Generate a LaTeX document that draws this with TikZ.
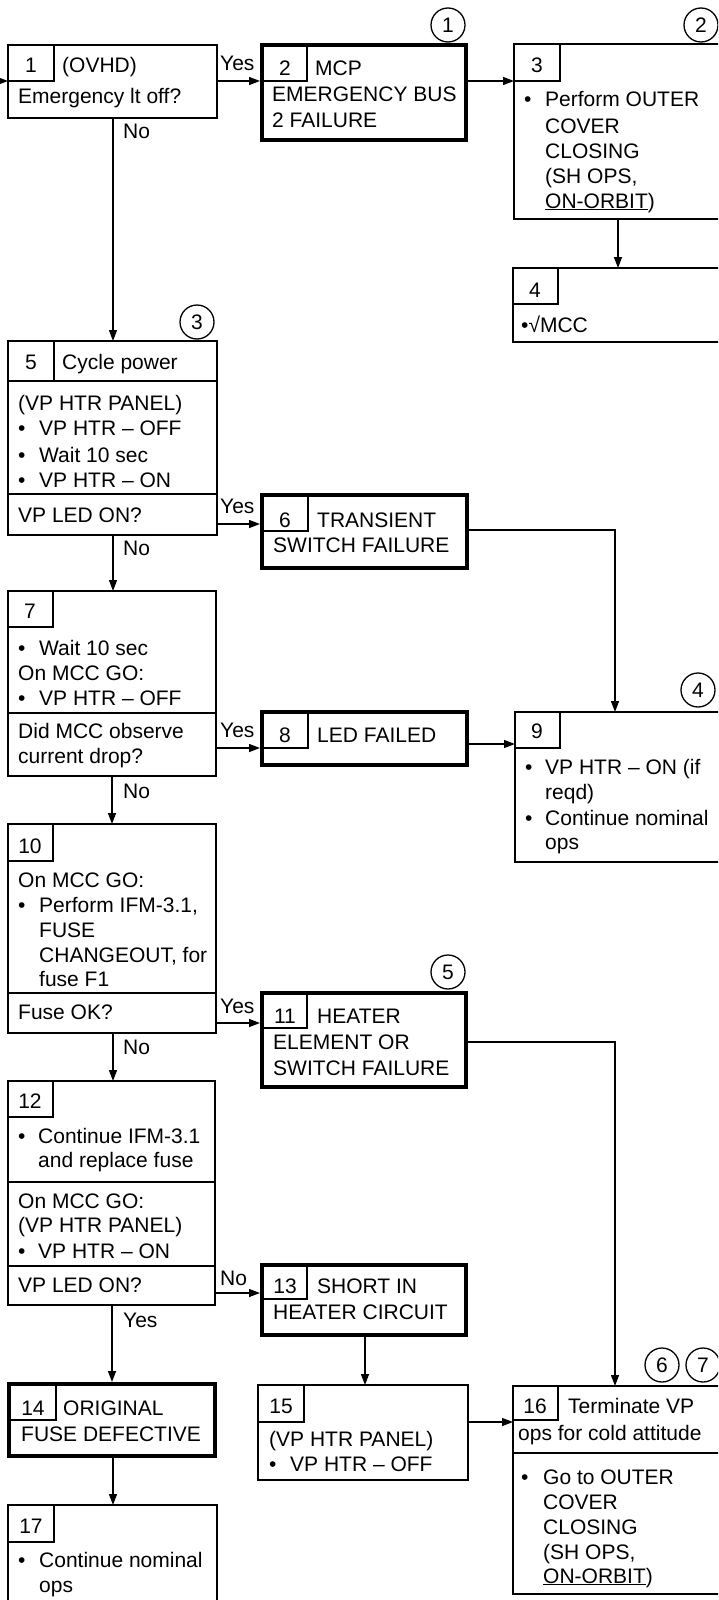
\documentclass[tikz,border=0pt]{standalone}
\usepackage{fontspec}
\setmainfont{Liberation Sans}
\usetikzlibrary{arrows.meta,fit}
\newcounter{tcnt}
\newcommand\tl[3]{\stepcounter{tcnt}\node[txt] (t\arabic{tcnt}) at (#1,#2) {#3};}
\newcommand\nm[3]{\stepcounter{tcnt}\node[txt,anchor=base] (t\arabic{tcnt}) at (#1,#2) {#3};}
\newcommand\bul[4]{\stepcounter{tcnt}\node[txt] (t\arabic{tcnt}) at (#1,#3) {•};\stepcounter{tcnt}\node[txt] (t\arabic{tcnt}) at (#2,#3) {#4};}
\newcommand\cel[3]{\draw[cell] (#1.north west) rectangle ++(#2,#3);}
\newcommand\dv[2]{\draw[cell] (#1.west |- 0,#2) -- (#1.east |- 0,#2);}
\begin{document}
\begin{tikzpicture}[x=1pt,y=-1pt,
  txt/.style={anchor=base west,inner sep=0pt,font=\fontsize{21}{25}\selectfont},
  thinbox/.style={draw,rectangle,line width=1.5pt,inner sep=0pt,outer sep=0pt},
  thickbox/.style={draw,rectangle,line width=4.5pt,inner sep=0pt,outer sep=0pt},
  cell/.style={line width=1.3pt},
  con/.style={line width=1.3pt},
  arr/.style={line width=1.3pt,-{Triangle[length=11pt,width=8pt]}},
  arrk/.style={arr,shorten >=2pt},
  circ/.style={draw,circle,line width=1.3pt,minimum size=34pt,inner sep=0pt,font=\fontsize{21}{25}\selectfont}]
\useasboundingbox (0,0) rectangle (718,1600);
\clip (0,0) rectangle (718,1600);

% circles
\node[circ] (c1) at (448,25) {1};
\node[circ] (c2) at (701,25) {2};
\node[circ] (c3) at (197,322) {3};
\node[circ] (c4) at (698,690) {4};
\node[circ] (c5) at (448,972) {5};
\node[circ] (c6) at (662,1365) {6};
\node[circ] (c7) at (703,1365) {7};

% Box 1
\node[thinbox,fit={(8,45) (217,118)}] (b1) {};
\cel{b1}{46}{36}
\nm{31}{73}{1}
\tl{62}{73}{(OVHD)}
\tl{18}{104}{Emergency lt off?}
\coordinate (in1) at (-4,81);
\draw[arr] (in1) -- (b1.west |- 0,81);

% Box 2
\node[thickbox,fit={(262,45) (466,140)}] (b2) {};
\cel{b2}{45}{36}
\nm{285}{76}{2}
\tl{315}{76}{MCP}
\tl{272}{102}{EMERGENCY BUS}
\tl{272}{128}{2 FAILURE}
\tl{220}{71}{Yes}
\draw[arrk] (b1.east |- 0,81) -- (b2.west |- 0,81);

% Box 3
\node[thinbox,fit={(514,44) (723,219)}] (b3) {};
\cel{b3}{46}{37}
\nm{537}{73}{3}
\bul{524}{545}{107}{Perform OUTER}
\tl{545}{133}{COVER}
\tl{545}{158}{CLOSING}
\tl{545}{183}{(SH OPS,}
\tl{545}{208}{\underline{ON-ORBIT})}
\draw[arr] (b2.east |- 0,81) -- (b3.west |- 0,81);

% Box 4
\node[thinbox,fit={(513,268) (723,342)}] (b4) {};
\cel{b4}{45}{36}
\nm{535}{297}{4}
\tl{521}{332}{•√MCC}
\draw[arr] (b3.south -| 618,0) -- (b4.north -| 618,0);

% Box 5
\node[thinbox,fit={(8,341) (217,535)}] (b5) {};
\cel{b5}{46}{40}
\dv{b5}{381}
\dv{b5}{494}
\nm{31}{369}{5}
\tl{62}{369}{Cycle power}
\tl{18}{410}{(VP HTR PANEL)}
\bul{18}{39}{435}{VP HTR – OFF}
\bul{18}{39}{462}{Wait 10 sec}
\bul{18}{39}{487}{VP HTR – ON}
\tl{18}{522}{VP LED ON?}
\draw[arr] (b1.south -| 113,0) -- (b5.north -| 113,0);
\tl{123}{139}{No}

% Box 6
\node[thickbox,fit={(262,495) (467,568)}] (b6) {};
\cel{b6}{46}{36}
\nm{285}{527}{6}
\tl{317}{527}{TRANSIENT}
\tl{273}{552}{SWITCH FAILURE}
\tl{220}{513}{Yes}
\draw[arrk] (b5.east |- 0,524) -- (b6.west |- 0,524);

% Box 7
\node[thinbox,fit={(8,591) (216,776)}] (b7) {};
\cel{b7}{45}{36}
\dv{b7}{713}
\nm{30}{618}{7}
\bul{18}{39}{655}{Wait 10 sec}
\tl{18}{680}{On MCC GO:}
\bul{18}{39}{705}{VP HTR – OFF}
\tl{18}{738}{Did MCC observe}
\tl{18}{763}{current drop?}
\tl{123}{555}{No}
\draw[arr] (b5.south -| 113,0) -- (b7.north -| 113,0);

% Box 8
\node[thickbox,fit={(262,712) (467,765)}] (b8) {};
\cel{b8}{46}{36}
\nm{285}{742}{8}
\tl{317}{742}{LED FAILED}
\tl{220}{737}{Yes}
\draw[arrk] (b7.east |- 0,748) -- (b8.west |- 0,748);

% Box 9
\node[thinbox,fit={(515,712) (723,862)}] (b9) {};
\cel{b9}{45}{36}
\nm{537}{738}{9}
\bul{525}{545}{774}{VP HTR – ON (if}
\tl{545}{799}{reqd)}
\bul{525}{545}{825}{Continue nominal}
\tl{545}{849}{ops}
\draw[arr] (b8.east |- 0,744) -- (b9.west |- 0,744);
\draw[arr] (b6.east |- 0,530) -| (b9.north -| 615,0);

% Box 10
\node[thinbox,fit={(8,824) (216,1033)}] (b10) {};
\cel{b10}{45}{37}
\dv{b10}{993}
\nm{30}{853}{10}
\tl{18}{887}{On MCC GO:}
\bul{18}{39}{912}{Perform IFM-3.1,}
\tl{39}{937}{FUSE}
\tl{39}{962}{CHANGEOUT, for}
\tl{39}{986}{fuse F1}
\tl{18}{1019}{Fuse OK?}
\tl{123}{798}{No}
\draw[arr] (b7.south -| 112,0) -- (b10.north -| 112,0);

% Box 11
\node[thickbox,fit={(262,993) (466,1087)}] (b11) {};
\cel{b11}{45}{35}
\nm{285}{1023}{11}
\tl{317}{1023}{HEATER}
\tl{273}{1049}{ELEMENT OR}
\tl{273}{1075}{SWITCH FAILURE}
\tl{220}{1013}{Yes}
\draw[arrk] (b10.east |- 0,1023) -- (b11.west |- 0,1023);

% Box 12
\node[thinbox,fit={(8,1081) (215,1305)}] (b12) {};
\cel{b12}{45}{36}
\dv{b12}{1182}
\dv{b12}{1266}
\nm{30}{1108}{12}
\bul{18}{38}{1143}{Continue IFM-3.1}
\tl{38}{1167}{and replace fuse}
\tl{18}{1208}{On MCC GO:}
\tl{18}{1232}{(VP HTR PANEL)}
\bul{18}{38}{1258}{VP HTR – ON}
\tl{18}{1292}{VP LED ON?}
\tl{123}{1054}{No}
\draw[arr] (b10.south -| 113,0) -- (b12.north -| 113,0);

% Box 13
\node[thickbox,fit={(262,1265) (466,1335)}] (b13) {};
\cel{b13}{45}{34}
\nm{285}{1293}{13}
\tl{317}{1293}{SHORT IN}
\tl{273}{1319}{HEATER CIRCUIT}
\tl{220}{1285}{No}
\draw[arrk] (b12.east |- 0,1293) -- (b13.west |- 0,1293);

% Box 14
\node[thickbox,fit={(9,1384) (215,1456)}] (b14) {};
\cel{b14}{47}{36}
\nm{33}{1415}{14}
\tl{63}{1415}{ORIGINAL}
\tl{21}{1441}{FUSE DEFECTIVE}
\tl{123}{1327}{Yes}
\draw[arrk] (b12.south -| 112,0) -- (b14.north -| 112,0);

% Box 17
\node[thinbox,fit={(8,1505) (217,1625)}] (b17) {};
\cel{b17}{46}{37}
\nm{31}{1533}{17}
\bul{18}{39}{1567}{Continue nominal}
\tl{39}{1592}{ops}
\draw[arr] (b14.south -| 113,0) -- (b17.north -| 113,0);

% Box 15
\node[thinbox,fit={(258,1385) (468,1480)}] (b15) {};
\cel{b15}{46}{37}
\nm{281}{1413}{15}
\tl{269}{1446}{(VP HTR PANEL)}
\bul{269}{290}{1471}{VP HTR – OFF}
\draw[arr] (b13.south -| 365,0) -- (b15.north -| 365,0);

% Box 16
\node[thinbox,fit={(513,1386) (723,1594)}] (b16) {};
\cel{b16}{45}{34}
\dv{b16}{1453}
\nm{535}{1413}{16}
\tl{568}{1413}{Terminate VP}
\tl{518}{1440}{ops for cold attitude}
\bul{521}{543}{1484}{Go to OUTER}
\tl{543}{1509}{COVER}
\tl{543}{1534}{CLOSING}
\tl{543}{1559}{(SH OPS,}
\tl{543}{1583}{\underline{ON-ORBIT})}
\draw[arr] (b15.east |- 0,1422) -- (b16.west |- 0,1422);
\draw[arr] (b11.east |- 0,1042) -| (b16.north -| 615,0);
\end{tikzpicture}
\end{document}
